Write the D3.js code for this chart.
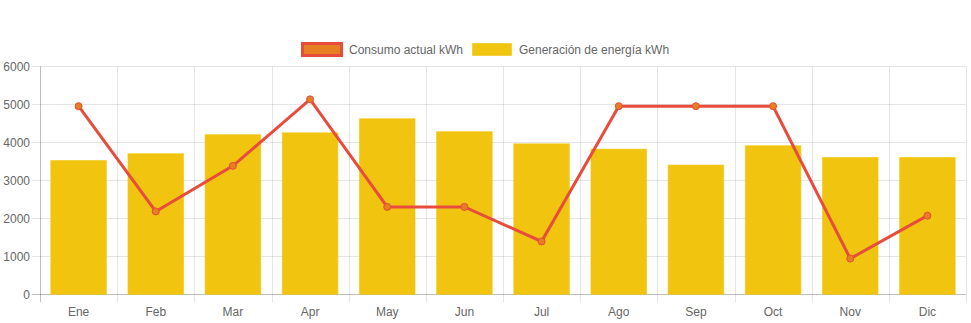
<!DOCTYPE html>
<html>
<head>
<meta charset="utf-8">
<script src="https://cdn.jsdelivr.net/npm/d3@7"></script>
<style>
  html, body { margin: 0; padding: 0; background: #fff; }
  svg { display: block; }
  text { font-family: "Liberation Sans", Arial, Helvetica, sans-serif; font-size: 12px; fill: #666; }
</style>
</head>
<body>
<svg id="chart" width="971" height="323"></svg>
<script>
// Monthly energy figures
const months = ["Ene", "Feb", "Mar", "Apr", "May", "Jun", "Jul", "Ago", "Sep", "Oct", "Nov", "Dic"];
const consumo = [4950, 2180, 3380, 5130, 2300, 2300, 1390, 4950, 4950, 4950, 940, 2070];
const generacion = [3520, 3700, 4200, 4250, 4620, 4280, 3960, 3820, 3400, 3910, 3600, 3600];
const yTicks = [0, 1000, 2000, 3000, 4000, 5000, 6000];
const seriesNames = ["Consumo actual kWh", "Generación de energía kWh"];

const svg = d3.select("#chart");
const margin = { left: 40, right: 5, top: 66.3, bottom: 28.7 };
const W = 971, H = 323;

const x = d3.scaleBand()
  .domain(months)
  .range([margin.left, W - margin.right])
  .paddingInner(0).paddingOuter(0);

const y = d3.scaleLinear()
  .domain([0, 6000])
  .range([H - margin.bottom, margin.top]);

const gridColor = "rgba(0,0,0,0.1)";
const crisp = v => Math.round(v) + 0.5;

// Horizontal grid lines
const grid = svg.append("g");
grid.selectAll("line.h").data(yTicks).enter().append("line")
  .attr("x1", margin.left - 8).attr("x2", W - margin.right)
  .attr("y1", d => crisp(y(d))).attr("y2", d => crisp(y(d)))
  .attr("stroke", d => d === 0 ? "rgba(0,0,0,0.25)" : gridColor);

// Vertical grid lines at category boundaries
const bounds = months.map(m => x(m)).concat([x(months[months.length - 1]) + x.bandwidth()]);
grid.selectAll("line.v").data(bounds).enter().append("line")
  .attr("x1", d => crisp(d)).attr("x2", d => crisp(d))
  .attr("y1", margin.top).attr("y2", H - margin.bottom + 8)
  .attr("stroke", (d, i) => i === 0 ? "rgba(0,0,0,0.25)" : gridColor);

// Y axis labels
svg.append("g").selectAll("text").data(yTicks).enter().append("text")
  .attr("x", margin.left - 10).attr("y", d => y(d))
  .attr("dy", "0.35em").attr("text-anchor", "end")
  .text(d => d);

// X axis labels
svg.append("g").selectAll("text").data(months).enter().append("text")
  .attr("x", d => x(d) + x.bandwidth() / 2).attr("y", H - margin.bottom + 17)
  .attr("dy", "0.35em").attr("text-anchor", "middle")
  .text(d => d);

// Bars: generation
const barW = x.bandwidth() * 0.72;
svg.append("g").selectAll("rect").data(generacion).enter().append("rect")
  .attr("x", (d, i) => x(months[i]) + (x.bandwidth() - barW) / 2)
  .attr("y", d => y(d))
  .attr("width", barW)
  .attr("height", d => y(0) - y(d))
  .attr("fill", "#F1C40F")
  .attr("stroke", "rgba(241,196,15,0.6)")
  .attr("stroke-width", 1);

// Line: consumption
const line = d3.line()
  .x((d, i) => x(months[i]) + x.bandwidth() / 2)
  .y(d => y(d));
svg.append("path").datum(consumo)
  .attr("d", line)
  .attr("fill", "none")
  .attr("stroke", "#E74C3C")
  .attr("stroke-width", 3)
  .attr("stroke-linejoin", "miter");

svg.append("g").selectAll("circle").data(consumo).enter().append("circle")
  .attr("cx", (d, i) => x(months[i]) + x.bandwidth() / 2)
  .attr("cy", d => y(d))
  .attr("r", 3.5)
  .attr("fill", "#E67E22")
  .attr("stroke", "#E74C3C")
  .attr("stroke-width", 1);

// Legend
const legend = svg.append("g");
legend.append("rect")
  .attr("x", 302.5).attr("y", 43.5).attr("width", 39).attr("height", 12)
  .attr("fill", "#E67E22").attr("stroke", "#E74C3C").attr("stroke-width", 3);
legend.append("text").attr("x", 349).attr("y", 49.5).attr("dy", "0.35em").text(seriesNames[0]);
legend.append("rect")
  .attr("x", 472.5).attr("y", 43.5).attr("width", 39).attr("height", 12)
  .attr("fill", "#F1C40F").attr("stroke", "rgba(241,196,15,0.6)").attr("stroke-width", 1);
legend.append("text").attr("x", 519).attr("y", 49.5).attr("dy", "0.35em").text(seriesNames[1]);
</script>
</body>
</html>
